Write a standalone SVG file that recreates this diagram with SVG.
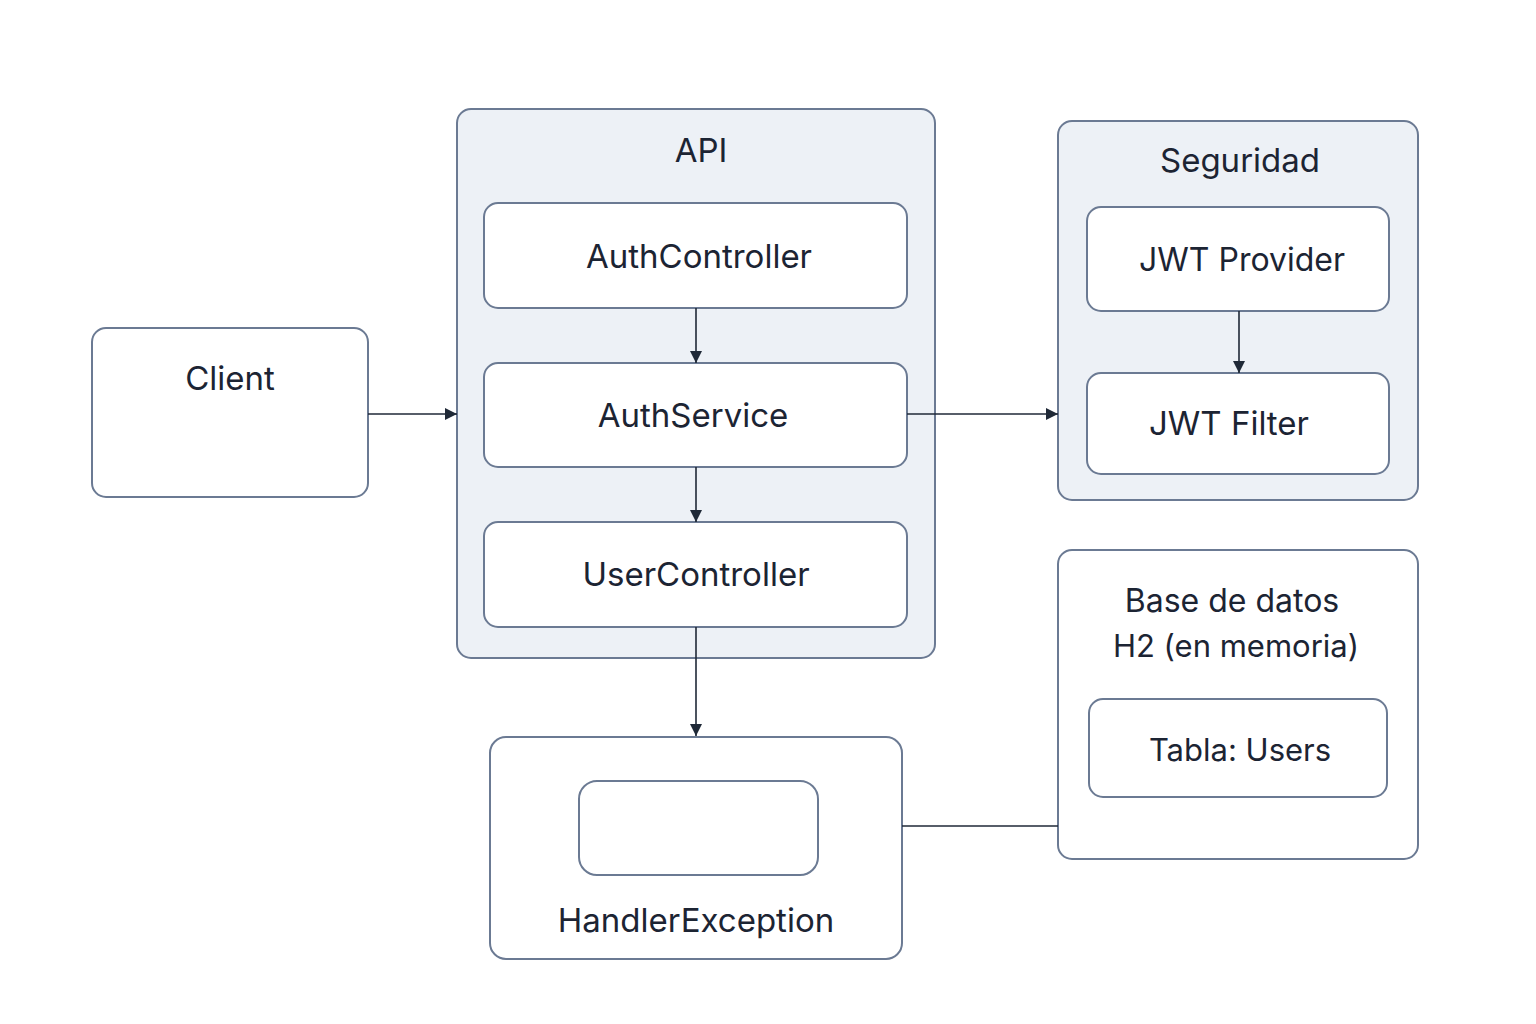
<svg xmlns="http://www.w3.org/2000/svg" width="1536" height="1024" viewBox="0 0 1536 1024">
<defs>
<style>
.box{fill:#ffffff;stroke:#6b7a93;stroke-width:2}
.cont{fill:#edf1f6;stroke:#6b7a93;stroke-width:2}
.t{font-family:Inter,"Noto Sans","Liberation Sans",sans-serif;font-size:33px;fill:#1c2433;text-anchor:middle}
.s{font-size:32px}
.xs{font-size:31px}
.c{stroke:#1f2937;stroke-width:1.6;fill:none}
</style>
<marker id="ah" viewBox="0 0 10 10" refX="10" refY="5" markerWidth="12" markerHeight="12" markerUnits="userSpaceOnUse" orient="auto">
<path d="M0,0 L10,5 L0,10 z" fill="#1f2937"/>
</marker>
</defs>
<rect width="1536" height="1024" fill="#ffffff"/>
<g id="client">
<rect class="box" x="92" y="328" width="276" height="169" rx="14"/>
<text class="t" x="230" y="390">Client</text>
</g>
<g id="api">
<rect class="cont" x="457" y="109" width="478" height="549" rx="14"/>
<text class="t" x="701" y="162">API</text>
</g>
<g id="authcontroller">
<rect class="box" x="484" y="203" width="423" height="105" rx="14"/>
<text class="t" x="699" y="268">AuthController</text>
</g>
<g id="authservice">
<rect class="box" x="484" y="363" width="423" height="104" rx="14"/>
<text class="t" x="693" y="427">AuthService</text>
</g>
<g id="usercontroller">
<rect class="box" x="484" y="522" width="423" height="105" rx="14"/>
<text class="t" x="696" y="586">UserController</text>
</g>
<g id="seguridad">
<rect class="cont" x="1058" y="121" width="360" height="379" rx="14"/>
<text class="t" x="1240" y="172">Seguridad</text>
</g>
<g id="jwtprovider">
<rect class="box" x="1087" y="207" width="302" height="104" rx="14"/>
<text class="t s" x="1242" y="271">JWT Provider</text>
</g>
<g id="jwtfilter">
<rect class="box" x="1087" y="373" width="302" height="101" rx="14"/>
<text class="t" x="1229" y="435">JWT Filter</text>
</g>
<g id="basededatos">
<rect class="box" x="1058" y="550" width="360" height="309" rx="14"/>
<text class="t s" x="1232" y="612">Base de datos</text>
<text class="t xs" x="1236" y="657">H2 (en memoria)</text>
</g>
<g id="tablausers">
<rect class="box" x="1089" y="699" width="298" height="98" rx="14"/>
<text class="t xs" x="1240" y="761">Tabla: Users</text>
</g>
<g id="handlerexception">
<rect class="box" x="490" y="737" width="412" height="222" rx="16"/>
<rect class="box" x="579" y="781" width="239" height="94" rx="18"/>
<text class="t" x="696" y="932">HandlerException</text>
</g>
<g id="connectors">
<line class="c" x1="368" y1="414" x2="457" y2="414" marker-end="url(#ah)"/>
<line class="c" x1="696" y1="308" x2="696" y2="363" marker-end="url(#ah)"/>
<line class="c" x1="696" y1="467" x2="696" y2="522" marker-end="url(#ah)"/>
<line class="c" x1="696" y1="627" x2="696" y2="736" marker-end="url(#ah)"/>
<line class="c" x1="907" y1="414" x2="1058" y2="414" marker-end="url(#ah)"/>
<line class="c" x1="1239" y1="311" x2="1239" y2="373" marker-end="url(#ah)"/>
<line class="c" x1="902" y1="826" x2="1058" y2="826"/>
</g>
</svg>
